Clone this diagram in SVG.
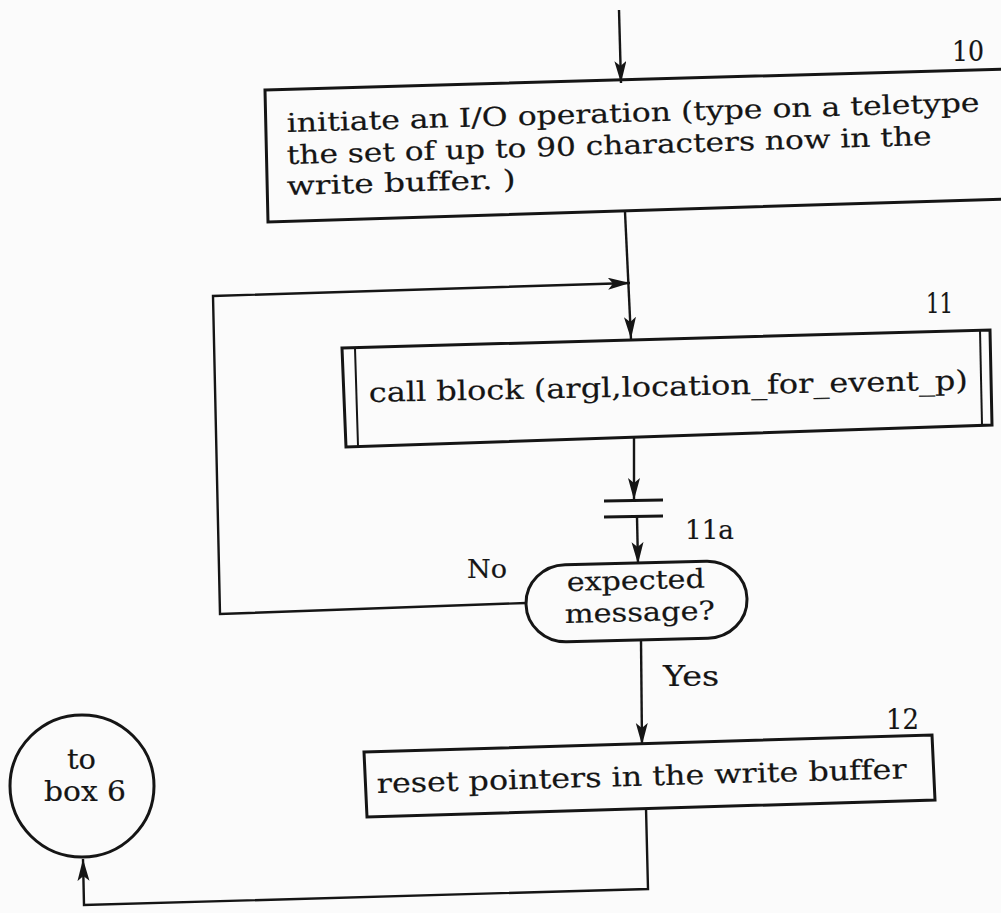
<svg xmlns="http://www.w3.org/2000/svg" width="1001" height="913" viewBox="0 0 1001 913">
  <defs>
    <marker id="arrow" markerUnits="userSpaceOnUse" markerWidth="24" markerHeight="14" refX="22" refY="6" orient="auto">
      <path d="M0,0 L22,6 L0,12 L5,6 Z" fill="#151515"/>
    </marker>
  </defs>
  <style>
    .box { fill: none; stroke: #151515; stroke-width: 3; stroke-linejoin: miter; }
    .thin { fill: none; stroke: #151515; stroke-width: 2; }
    .wire { fill: none; stroke: #151515; stroke-width: 2.4; }
    .bar { stroke: #151515; stroke-width: 3; }
    text { font-variant-ligatures: none; fill: #151515; stroke: #151515; stroke-width: 0.2; }
    .t1 { font-family: "DejaVu Serif", "Liberation Serif", serif; font-size: 26px; }
    .t2 { font-family: "DejaVu Serif", "Liberation Serif", serif; font-size: 27px; }
  </style>
  <rect width="1001" height="913" fill="#fbfbfb"/>

  <!-- connectors -->
  <g id="connectors">
    <line class="wire" x1="619" y1="10" x2="621" y2="83" marker-end="url(#arrow)"/>
    <line class="wire" x1="625" y1="212" x2="631" y2="339" marker-end="url(#arrow)"/>
    <path class="wire" d="M526,603 L220,614 L213,296 L630,283" marker-end="url(#arrow)"/>
    <line class="wire" x1="634" y1="437" x2="634" y2="500" marker-end="url(#arrow)"/>
    <line class="wire" x1="637" y1="517" x2="638" y2="564" marker-end="url(#arrow)"/>
    <line class="wire" x1="641" y1="640" x2="642" y2="745" marker-end="url(#arrow)"/>
    <path class="wire" d="M646,808 L648,889 L84,905 L83,859" marker-end="url(#arrow)"/>
    <text class="t1" x="467" y="578" textLength="40" lengthAdjust="spacingAndGlyphs">No</text>
    <text class="t2" x="663" y="686" textLength="56" lengthAdjust="spacingAndGlyphs">Yes</text>
  </g>

  <!-- box 10: start the teletype write -->
  <g id="box10">
    <polygon class="box" points="265,90 1006,69 1006,199 268,222"/>
    <text class="t2" x="952" y="61" textLength="32" lengthAdjust="spacingAndGlyphs">10</text>
    <text class="t1" x="287" y="132" textLength="693" lengthAdjust="spacingAndGlyphs" transform="rotate(-1.7 287 132)">initiate an I/O operation (type on a teletype</text>
    <text class="t1" x="287" y="164" textLength="645" lengthAdjust="spacingAndGlyphs" transform="rotate(-1.7 287 164)">the set of up to 90 characters now in the</text>
    <text class="t1" x="287" y="195" textLength="229" lengthAdjust="spacingAndGlyphs" transform="rotate(-1.7 287 195)">write buffer. )</text>
  </g>

  <!-- box 11: predefined process (double sides) -->
  <g id="box11">
    <polygon class="box" points="342,348 990,330 992,425 346,447"/>
    <line class="thin" x1="355" y1="348" x2="358" y2="446"/>
    <line class="thin" x1="980" y1="330" x2="982" y2="425"/>
    <text class="t2" x="926" y="313" textLength="27" lengthAdjust="spacingAndGlyphs">11</text>
    <text class="t2" x="369" y="402" textLength="599" lengthAdjust="spacingAndGlyphs" transform="rotate(-1.2 369 402)">call block (argl,location_for_event_p)</text>
  </g>

  <!-- 11a: wait break -->
  <g id="break11a">
    <line class="bar" x1="604" y1="501" x2="663" y2="500"/>
    <line class="bar" x1="604" y1="517" x2="663" y2="516"/>
    <text class="t1" x="685" y="539" textLength="49" lengthAdjust="spacingAndGlyphs">11a</text>
  </g>

  <!-- decision -->
  <g id="decision">
    <rect class="box" x="526" y="563" width="221" height="77" rx="40" ry="38" transform="rotate(-1.4 636 601)"/>
    <text class="t1" x="567" y="591" textLength="138" lengthAdjust="spacingAndGlyphs" transform="rotate(-1.4 567 591)">expected</text>
    <text class="t1" x="565" y="623" textLength="150" lengthAdjust="spacingAndGlyphs" transform="rotate(-1.4 565 623)">message?</text>
  </g>

  <!-- box 12 -->
  <g id="box12">
    <polygon class="box" points="364,752 932,735 935,800 367,817"/>
    <text class="t2" x="886" y="729" textLength="33" lengthAdjust="spacingAndGlyphs">12</text>
    <text class="t2" x="377" y="793" textLength="530" lengthAdjust="spacingAndGlyphs" transform="rotate(-1.6 377 793)">reset pointers in the write buffer</text>
  </g>

  <!-- off-page connector -->
  <g id="toBox6">
    <ellipse class="box" cx="82" cy="786" rx="72" ry="71"/>
    <text class="t2" x="67" y="769" textLength="29" lengthAdjust="spacingAndGlyphs">to</text>
    <text class="t2" x="44" y="801" textLength="82" lengthAdjust="spacingAndGlyphs">box 6</text>
  </g>
</svg>
